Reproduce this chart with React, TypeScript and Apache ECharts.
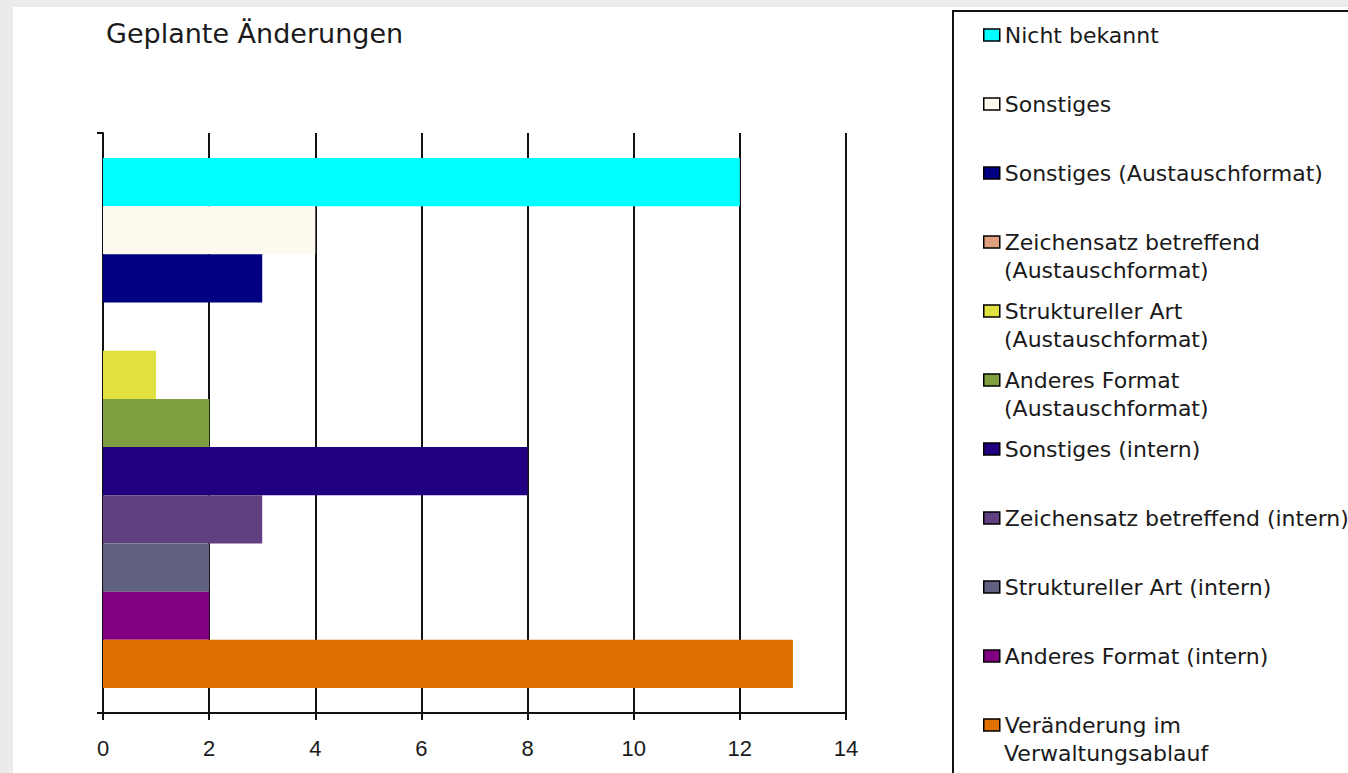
import React, { useEffect, useRef } from "react";
import * as echarts from "echarts";

const titleText = "Geplante Änderungen";
const categories = [""];
const seriesNames = [
  "Nicht bekannt",
  "Sonstiges",
  "Sonstiges (Austauschformat)",
  "Zeichensatz betreffend",
  "Struktureller Art",
  "Anderes Format",
  "Sonstiges (intern)",
  "Zeichensatz betreffend (intern)",
  "Struktureller Art (intern)",
  "Anderes Format (intern)",
  "Veränderung im",
];
const secondLines = ["", "", "", "(Austauschformat)", "(Austauschformat)", "(Austauschformat)", "", "", "", "", "Verwaltungsablauf"];
const seriesValues = [12, 4, 3, 0, 1, 2, 8, 3, 2, 2, 13];
const seriesColors = [
  "#00ffff",
  "#fffaf0",
  "#000080",
  "#e0a080",
  "#e0e040",
  "#80a040",
  "#200080",
  "#604080",
  "#606080",
  "#800080",
  "#e07000",
];
const xTicks = [0, 14, 2];

export default function App() {
  const ref = useRef<HTMLDivElement>(null);
  useEffect(() => {
    if (!ref.current) return;
    const chart = echarts.init(ref.current, null, { renderer: "svg" });
    const font = "DejaVu Sans";
    const legendCenters = seriesNames.map((_, i) => 35 + i * 69);
    const legends = seriesNames.map((n, i) => ({
      data: [n],
      left: 983,
      top: legendCenters[i] - 12,
      padding: 0,
      orient: "vertical",
      icon: "rect",
      itemWidth: 16,
      itemHeight: 12,
      selectedMode: false,
      itemStyle: { borderColor: "#000", borderWidth: 1.5 },
      textStyle: { fontFamily: font, fontSize: 22, color: "#1a1a1a", lineHeight: 24 },
    }));
    const graphics: any[] = [
      { type: "rect", shape: { x: 0, y: 0, width: 13, height: 773 }, style: { fill: "#ebebeb" }, silent: true },
      { type: "rect", shape: { x: 0, y: 0, width: 1348, height: 7 }, style: { fill: "#ebebeb" }, silent: true },
      {
        type: "rect",
        shape: { x: 953, y: 11, width: 420, height: 800 },
        style: { fill: "#fff", stroke: "#111", lineWidth: 2 },
        silent: true,
        z: -1,
      },
    ];
    secondLines.forEach((t, i) => {
      if (!t) return;
      graphics.push({
        type: "text",
        x: 1004,
        y: legendCenters[i] + 28,
        style: { text: t, fontFamily: font, fontSize: 22, fill: "#1a1a1a", verticalAlign: "middle", align: "left" },
        silent: true,
      });
    });
    chart.setOption({
      animation: false,
      backgroundColor: "#fff",
      title: {
        text: titleText,
        left: 106,
        top: 20,
        padding: 0,
        textStyle: { fontFamily: font, fontSize: 27, fontWeight: "normal", color: "#1a1a1a" },
      },
      legend: legends,
      graphic: graphics,
      grid: { left: 103, right: 502, top: 133, bottom: 60, containLabel: false },
      xAxis: {
        type: "value",
        min: xTicks[0],
        max: xTicks[1],
        interval: xTicks[2],
        axisLine: { show: true, lineStyle: { color: "#111", width: 2 } },
        axisTick: { show: true, length: 7, lineStyle: { color: "#111", width: 2 } },
        splitLine: { show: true, lineStyle: { color: "#111", width: 2 } },
        axisLabel: { fontFamily: "Liberation Sans", fontSize: 22, color: "#1a1a1a", margin: 24 },
      },
      yAxis: {
        type: "category",
        data: categories,
        inverse: true,
        axisLine: { show: true, lineStyle: { color: "#111", width: 2 } },
        axisTick: { show: true, length: 6, lineStyle: { color: "#111", width: 2 } },
        axisLabel: { show: false },
      },
      series: seriesNames.map((n, i) => ({
        name: n,
        type: "bar",
        data: [seriesValues[i]],
        barGap: "0%",
        barCategoryGap: "8.6%",
        itemStyle: { color: seriesColors[i] },
      })),
    });
    return () => chart.dispose();
  }, []);
  return <div ref={ref} style={{ position: "fixed", left: 0, top: 0, width: 1348, height: 773 }} />;
}
